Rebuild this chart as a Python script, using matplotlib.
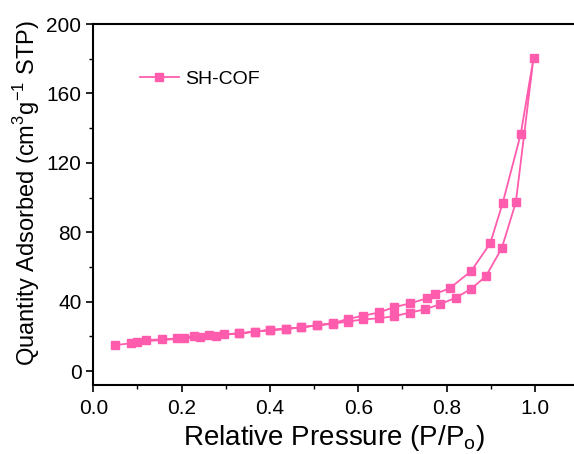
import matplotlib.pyplot as plt
from matplotlib.ticker import MultipleLocator

plt.rc('font', family=['Liberation Sans', 'DejaVu Sans'], size=15)

# adsorption branch then desorption branch (one continuous series)
p_ads = [0.049, 0.085, 0.120, 0.155, 0.190, 0.227, 0.262, 0.297, 0.331, 0.367,
         0.401, 0.436, 0.471, 0.507, 0.542, 0.576, 0.611, 0.647, 0.682, 0.717,
         0.751, 0.785, 0.821, 0.855, 0.889, 0.925, 0.957, 0.997]
q_ads = [15.0, 16.0, 17.9, 18.3, 18.8, 20.2, 20.8, 21.3, 21.7, 22.7,
         23.7, 24.2, 25.2, 26.3, 27.3, 28.5, 29.8, 30.4, 31.7, 33.7,
         35.6, 38.5, 42.3, 47.3, 54.6, 70.8, 97.3, 180.4]
p_des = [0.968, 0.927, 0.899, 0.856, 0.808, 0.774, 0.755, 0.717, 0.682, 0.647,
         0.611, 0.576, 0.542, 0.507, 0.471, 0.436, 0.401, 0.367, 0.331, 0.278,
         0.242, 0.206, 0.098]
q_des = [136.5, 96.7, 73.7, 57.7, 47.9, 44.4, 41.9, 39.0, 36.9, 33.8,
         31.9, 30.0, 27.6, 26.5, 25.3, 24.3, 23.8, 22.8, 21.8, 20.4,
         19.8, 18.8, 16.9]

pressure = p_ads + p_des
quantity = q_ads + q_des

fig = plt.figure(figsize=(5.74, 4.54), dpi=100)
# the original is cropped right at the end of the axes box
ax = fig.add_axes([0.1625, 0.152, 0.8385, 0.795])

ax.plot(pressure, quantity, color='#ff5cad', lw=1.3, marker='s', ms=6,
        mec='#ff5cad', label='SH-COF')

ax.set_xlim(0, 1.09)
ax.set_ylim(-8, 200)
ax.xaxis.set_major_locator(MultipleLocator(0.2))
ax.xaxis.set_minor_locator(MultipleLocator(0.1))
ax.yaxis.set_major_locator(MultipleLocator(40))
ax.yaxis.set_minor_locator(MultipleLocator(20))
ax.tick_params(which='major', length=5, width=1.2)
ax.tick_params(axis='x', which='major', pad=5)
ax.tick_params(which='minor', length=3, width=1.0)
for s in ax.spines.values():
    s.set_linewidth(1.5)
ax.spines['right'].set_visible(False)

ax.set_xlabel('Relative Pressure (P/P$_\\mathregular{o}$)', fontsize=20, labelpad=4)
ax.set_ylabel('Quantity Adsorbed (cm$^\\mathregular{3}$g$^\\mathregular{-1}$ STP)',
              fontsize=17)
ax.yaxis.set_label_coords(-0.107, 0.532)

ax.legend(loc='upper left', bbox_to_anchor=(0.06, 0.92), frameon=False,
          fontsize=14, handlelength=2.0, handletextpad=0.35)

fig.savefig('out.png', dpi=100)
